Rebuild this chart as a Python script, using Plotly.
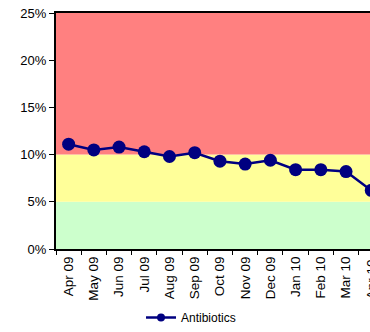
import plotly.graph_objects as go

# Monthly antibiotic rate (%)
months = ["Apr 09", "May 09", "Jun 09", "Jul 09", "Aug 09", "Sep 09", "Oct 09",
          "Nov 09", "Dec 09", "Jan 10", "Feb 10", "Mar 10", "Apr 10"]
antibiotics = [11.1, 10.5, 10.8, 10.3, 9.8, 10.2, 9.3, 9.0, 9.4, 8.4, 8.4, 8.2, 6.2]

# RAG threshold bands (% ranges) and fill colours
band_lows = [0, 5, 10]
band_highs = [5, 10, 25]
band_colors = ["#CCFFCC", "#FFFF99", "#FF8080"]

y_ticks = [0, 5, 10, 15, 20, 25]

FONT = "Liberation Sans, Arial, sans-serif"
NAVY = "#000080"
X_RANGE = [-0.5, 11.95]

fig = go.Figure()

fig.add_trace(go.Scatter(
    x=months, y=antibiotics, mode="lines+markers",
    line=dict(color=NAVY, width=2.5),
    marker=dict(color=NAVY, size=13),
    cliponaxis=True, showlegend=False, hoverinfo="x+y",
))

# legend entry with a smaller marker
fig.add_trace(go.Scatter(
    x=[None], y=[None], mode="lines+markers", name="Antibiotics",
    line=dict(color=NAVY, width=2.5),
    marker=dict(color=NAVY, size=8),
))

for lo, hi, col in zip(band_lows, band_highs, band_colors):
    fig.add_shape(type="rect", xref="paper", yref="y", x0=0, x1=1, y0=lo, y1=hi,
                  fillcolor=col, line_width=0, layer="below")

# label of the last month, which sits past the end of the visible range
last_idx = len(months) - 1
last_frac = (last_idx - X_RANGE[0]) / (X_RANGE[1] - X_RANGE[0])
fig.add_annotation(x=last_frac, xref="paper", y=0, yref="paper", text=months[-1],
                   textangle=-90, showarrow=False, xanchor="center", yanchor="top",
                   yshift=-8, font=dict(family=FONT, size=13.5, color="#000000"))

fig.update_layout(
    width=370, height=332,
    margin=dict(l=56, r=0, t=13, b=83),
    paper_bgcolor="white", plot_bgcolor="white",
    font=dict(family=FONT, size=13, color="#000000"),
    showlegend=True,
    legend=dict(orientation="h", x=0.43, xanchor="center", y=-0.292, yanchor="middle",
                font=dict(family=FONT, size=12), bgcolor="rgba(0,0,0,0)"),
)

fig.update_xaxes(
    type="category", range=X_RANGE, tickangle=-90,
    tickson="boundaries", ticks="outside", ticklen=4, tickcolor="#000000",
    showline=True, linecolor="#000000", linewidth=2, mirror=True,
    showgrid=False, zeroline=False, tickfont=dict(size=13.5),
)
fig.update_yaxes(
    range=[0, 25], tickvals=y_ticks, ticktext=[f"{v}%" for v in y_ticks],
    ticks="outside", ticklen=5, tickcolor="#000000",
    showline=True, linecolor="#000000", linewidth=2,
    showgrid=False, zeroline=False, tickfont=dict(size=13),
)

fig.write_html("out.html")
